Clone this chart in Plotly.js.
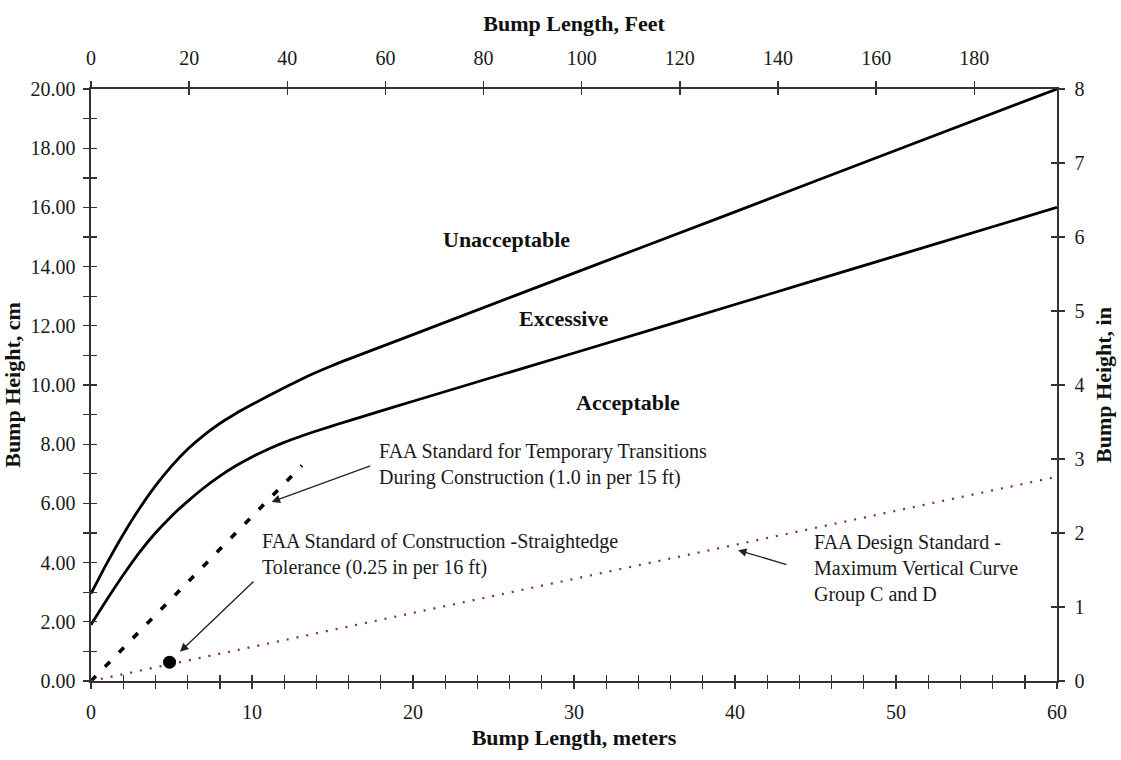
<!DOCTYPE html>
<html>
<head>
<meta charset="utf-8">
<script src="https://cdn.plot.ly/plotly-3.0.1.min.js"></script>
<style>
  html, body { margin: 0; padding: 0; background: #ffffff; }
  #chart { width: 1121px; height: 760px; }
</style>
</head>
<body>
<div id="chart"></div>
<script>
// ---- data (bump length in meters, bump height in cm) ----
const upperLengthM = [0, 1, 2, 3, 4, 5, 6, 7, 8, 9, 10, 11, 12, 13, 14, 15, 16, 20, 30, 40, 50, 60];
const upperHeightCm = [2.95, 3.99, 4.95, 5.82, 6.59, 7.26, 7.83, 8.30, 8.70, 9.04, 9.34, 9.63, 9.91, 10.18, 10.43, 10.66, 10.875, 11.70, 13.78, 15.85, 17.93, 20];

const lowerLengthM = [0, 1, 2, 3, 4, 5, 6, 7, 8, 9, 10, 11, 12, 13, 14, 15, 16, 20, 25, 30, 40, 50, 60];
const lowerHeightCm = [1.9, 2.76, 3.58, 4.34, 5.00, 5.57, 6.07, 6.52, 6.92, 7.27, 7.57, 7.83, 8.06, 8.26, 8.445, 8.62, 8.79, 9.45, 10.27, 11.08, 12.72, 14.36, 16];

const tempTransLengthM = [0, 13.1];
const tempTransHeightCm = [0, 7.28];

const designStdLengthM = [0, 60];
const designStdHeightCm = [0, 6.9];

const straightedgeLengthM = [4.88];
const straightedgeHeightCm = [0.635];

const zoneLabels = ["Unacceptable", "Excessive", "Acceptable"];
const zoneLabelX = [25.8, 29.34, 33.37];
const zoneLabelY = [14.93, 12.25, 9.40];

const M_TO_FT = 3.28084;
const xMaxM = 60, yMaxCm = 20, yMaxIn = 8;

const serif = "'Liberation Serif', 'Times New Roman', serif";
const axisColor = '#333333';

const traces = [
  { x: upperLengthM, y: upperHeightCm, mode: 'lines', type: 'scatter',
    line: { color: '#000', width: 2.8, shape: 'spline', smoothing: 1 }, hoverinfo: 'skip' },
  { x: lowerLengthM, y: lowerHeightCm, mode: 'lines', type: 'scatter',
    line: { color: '#000', width: 2.8, shape: 'spline', smoothing: 1 }, hoverinfo: 'skip' },
  { x: tempTransLengthM, y: tempTransHeightCm, mode: 'lines', type: 'scatter',
    line: { color: '#000', width: 3.6, dash: '7px,13px' }, hoverinfo: 'skip' },
  { x: designStdLengthM, y: designStdHeightCm, mode: 'lines', type: 'scatter',
    line: { color: '#8e2a2a', width: 2.2, dash: '2px,8px' }, hoverinfo: 'skip' },
  { x: straightedgeLengthM, y: straightedgeHeightCm, mode: 'markers', type: 'scatter',
    marker: { color: '#000', size: 13 }, hoverinfo: 'skip' },
  // secondary axes carriers (no visible marks)
  { x: [], y: [], xaxis: 'x2', yaxis: 'y', type: 'scatter', hoverinfo: 'skip' },
  { x: [], y: [], xaxis: 'x', yaxis: 'y2', type: 'scatter', hoverinfo: 'skip' },
  { x: [], y: [], xaxis: 'x3', yaxis: 'y3', type: 'scatter', hoverinfo: 'skip' },
  { x: [], y: [], xaxis: 'x4', yaxis: 'y4', type: 'scatter', hoverinfo: 'skip' }
];

const tickFont = { family: serif, size: 20, color: '#1a1a1a' };
const titleFont = { family: serif, size: 22, color: '#111', weight: 'bold' };

const common = { showgrid: false, zeroline: false, showline: true, linecolor: axisColor, linewidth: 1.6,
  tickcolor: axisColor, tickwidth: 1.4, tickfont: tickFont, fixedrange: true };

const annotations = [];
zoneLabels.forEach((t, i) => annotations.push({
  x: zoneLabelX[i], y: zoneLabelY[i], xref: 'x', yref: 'y', text: '<b>' + t + '</b>',
  showarrow: false, font: { family: serif, size: 22, color: '#111' }
}));
// descriptive texts
annotations.push({ x: 17.75, y: 7.33, xref: 'x', yref: 'y', xanchor: 'left', yanchor: 'middle', align: 'left',
  text: 'FAA Standard for Temporary Transitions<br>During Construction (1.0 in per 15 ft)',
  showarrow: false, font: { family: serif, size: 20, color: '#1a1a1a' } });
annotations.push({ x: 10.5, y: 4.26, xref: 'x', yref: 'y', xanchor: 'left', yanchor: 'middle', align: 'left',
  text: 'FAA Standard of Construction -Straightedge<br>Tolerance (0.25 in per 16 ft)',
  showarrow: false, font: { family: serif, size: 20, color: '#1a1a1a' } });
annotations.push({ x: 44.76, y: 3.815, xref: 'x', yref: 'y', xanchor: 'left', yanchor: 'middle', align: 'left',
  text: 'FAA Design Standard -<br>Maximum Vertical Curve<br>Group C and D',
  showarrow: false, font: { family: serif, size: 20, color: '#1a1a1a' } });
// arrows
const arrows = [
  { tip: [11.22, 6.05], tail: [17.44, 7.29] },
  { tip: [5.53, 0.99], tail: [10.19, 3.41] },
  { tip: [40.19, 4.42], tail: [43.29, 3.92] }
];
arrows.forEach(a => annotations.push({
  x: a.tip[0], y: a.tip[1], ax: a.tail[0], ay: a.tail[1], xref: 'x', yref: 'y', axref: 'x', ayref: 'y',
  text: '', showarrow: true, arrowhead: 2, arrowsize: 1.3, arrowwidth: 1.3, arrowcolor: '#222'
}));

const layout = {
  width: 1121, height: 760,
  margin: { l: 91, r: 64, t: 89, b: 79 },
  paper_bgcolor: '#fff', plot_bgcolor: '#fff',
  showlegend: false,
  xaxis: Object.assign({}, common, {
    range: [0, xMaxM], dtick: 10, tick0: 0, ticks: 'outside', ticklen: 6, ticklabelstandoff: 6,
    minor: { dtick: 2, ticks: 'outside', ticklen: 6, tickcolor: axisColor, tickwidth: 1.4 },
    title: { text: '<b>Bump Length, meters</b>', font: titleFont, standoff: 8 }
  }),
  xaxis2: Object.assign({}, common, {
    overlaying: 'x', side: 'top', anchor: 'y',
    range: [0, xMaxM * M_TO_FT], dtick: 20, tick0: 0, ticks: 'outside', ticklen: 6, ticklabelstandoff: 8,
    title: { text: '<b>Bump Length, Feet</b>', font: titleFont, standoff: 10 }
  }),
  xaxis3: Object.assign({}, common, {
    overlaying: 'x', side: 'bottom', anchor: 'y',
    range: [0, xMaxM], dtick: 10, tick0: 0, ticks: 'inside', ticklen: 6, showticklabels: false,
    minor: { dtick: 2, ticks: 'inside', ticklen: 6, tickcolor: axisColor, tickwidth: 1.4 }
  }),
  xaxis4: Object.assign({}, common, {
    overlaying: 'x', side: 'top', anchor: 'y',
    range: [0, xMaxM * M_TO_FT], dtick: 20, tick0: 0, ticks: 'inside', ticklen: 6, showticklabels: false
  }),
  yaxis: Object.assign({}, common, {
    range: [0, yMaxCm], dtick: 2, tick0: 0, tickformat: '.2f', ticks: 'outside', ticklen: 6, ticklabelstandoff: 4,
    minor: { dtick: 1, ticks: 'outside', ticklen: 6, tickcolor: axisColor, tickwidth: 1.4 },
    title: { text: '<b>Bump Height, cm</b>', font: titleFont, standoff: 6 }
  }),
  yaxis2: Object.assign({}, common, {
    overlaying: 'y', side: 'right', anchor: 'x',
    range: [0, yMaxIn], dtick: 1, tick0: 0, ticks: 'outside', ticklen: 6, ticklabelstandoff: 6,
    title: { text: '<b>Bump Height, in</b>', font: titleFont, standoff: 12 }
  }),
  yaxis3: Object.assign({}, common, {
    overlaying: 'y', side: 'left', anchor: 'x',
    range: [0, yMaxCm], dtick: 2, tick0: 0, ticks: 'inside', ticklen: 6, showticklabels: false,
    minor: { dtick: 1, ticks: 'inside', ticklen: 6, tickcolor: axisColor, tickwidth: 1.4 }
  }),
  yaxis4: Object.assign({}, common, {
    overlaying: 'y', side: 'right', anchor: 'x',
    range: [0, yMaxIn], dtick: 1, tick0: 0, ticks: 'inside', ticklen: 6, showticklabels: false
  }),
  annotations: annotations
};

Plotly.newPlot('chart', traces, layout, { displayModeBar: false, staticPlot: true });
</script>
</body>
</html>
